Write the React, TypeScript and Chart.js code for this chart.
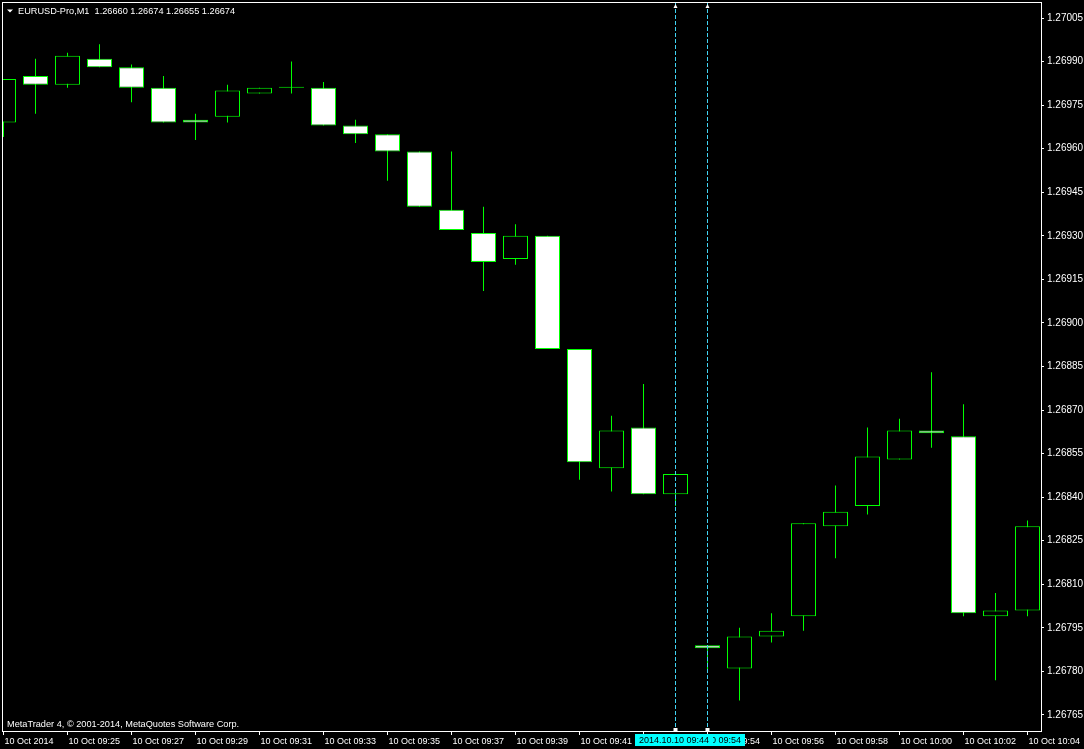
import React, { useEffect, useRef } from 'react';
import { Chart, registerables } from 'chart.js';

Chart.register(...registerables);

// ---- Data (EURUSD-Pro, M1, 10 Oct 2014) ----
const times = [
  '09:23', '09:24', '09:25', '09:26', '09:27', '09:28', '09:29', '09:30', '09:31', '09:32', '09:33',
  '09:34', '09:35', '09:36', '09:37', '09:38', '09:39', '09:40', '09:41', '09:42', '09:43', '09:44',
  '09:54', '09:55', '09:56', '09:57', '09:58', '09:59', '10:00', '10:01', '10:02', '10:03', '10:04',
];
const opens = [
  1.26969, 1.26985, 1.26982, 1.26991, 1.26988, 1.26981, 1.26970, 1.26971, 1.26979, 1.26981, 1.26981,
  1.26968, 1.26965, 1.26959, 1.26939, 1.26931, 1.26922, 1.26930, 1.26891, 1.26850, 1.26864, 1.26841,
  1.26789, 1.26781, 1.26792, 1.26799, 1.26830, 1.26837, 1.26853, 1.26863, 1.26861, 1.26799, 1.26801,
];
const highs = [
  1.26984, 1.26991, 1.26993, 1.26996, 1.26989, 1.26985, 1.26972, 1.26982, 1.26981, 1.26990, 1.26983,
  1.26970, 1.26965, 1.26959, 1.26959, 1.26940, 1.26934, 1.26930, 1.26891, 1.26868, 1.26879, 1.26848,
  1.26789, 1.26795, 1.26800, 1.26831, 1.26844, 1.26864, 1.26867, 1.26883, 1.26872, 1.26807, 1.26832,
];
const lows = [
  1.26964, 1.26972, 1.26981, 1.26988, 1.26976, 1.26969, 1.26963, 1.26969, 1.26979, 1.26979, 1.26968,
  1.26962, 1.26949, 1.26940, 1.26932, 1.26911, 1.26920, 1.26891, 1.26846, 1.26842, 1.26841, 1.26837,
  1.26780, 1.26770, 1.26790, 1.26794, 1.26819, 1.26834, 1.26853, 1.26857, 1.26799, 1.26777, 1.26799,
];
const closes = [
  1.26984, 1.26982, 1.26992, 1.26988, 1.26981, 1.26969, 1.26969, 1.26980, 1.26981, 1.26981, 1.26968,
  1.26965, 1.26959, 1.26940, 1.26932, 1.26921, 1.26930, 1.26891, 1.26852, 1.26863, 1.26841, 1.26848,
  1.26788, 1.26792, 1.26794, 1.26831, 1.26835, 1.26854, 1.26863, 1.26862, 1.26800, 1.26801, 1.26830,
];

const xTickIndices = [0, 2, 4, 6, 8, 10, 12, 14, 16, 18, 20, 22, 24, 26, 28, 30, 32];
const xTickLabels = [
  '10 Oct 2014', '10 Oct 09:25', '10 Oct 09:27', '10 Oct 09:29', '10 Oct 09:31', '10 Oct 09:33',
  '10 Oct 09:35', '10 Oct 09:37', '10 Oct 09:39', '10 Oct 09:41', '10 Oct 09:43', '10 Oct 09:54',
  '10 Oct 09:56', '10 Oct 09:58', '10 Oct 10:00', '10 Oct 10:02', '10 Oct 10:04',
];
const yTicks = [
  1.26765, 1.2678, 1.26795, 1.2681, 1.26825, 1.2684, 1.26855, 1.2687, 1.26885,
  1.269, 1.26915, 1.2693, 1.26945, 1.2696, 1.26975, 1.2699, 1.27005,
];

const headerSymbol = 'EURUSD-Pro,M1';
const headerQuote = ['1.26660', '1.26674', '1.26655', '1.26674'];
const footerText = 'MetaTrader 4, \u00A9 2001-2014, MetaQuotes Software Corp.';
// vertical cursor lines (drawn in this order)
const cursorIdx = [22, 21];
const cursorLabels = ['2014.10.10 09:54', '2014.10.10 09:44'];

const FONT = '"Liberation Sans", Arial, sans-serif';
const GREEN = '#00ff00';

const zeroPad = (s: any) => {
  s.paddingTop = 0;
  s.paddingBottom = 0;
  s.paddingLeft = 0;
  s.paddingRight = 0;
};

const overlayPlugin = {
  id: 'mt4Overlay',
  beforeDraw(chart: any) {
    const ctx = chart.ctx;
    ctx.save();
    ctx.fillStyle = '#000';
    ctx.fillRect(0, 0, chart.width, chart.height);
    ctx.restore();
  },
  afterDraw(chart: any) {
    const ctx = chart.ctx;
    const { left, top, right, bottom } = chart.chartArea;
    const xs = chart.scales.x;
    ctx.save();

    // frame
    ctx.strokeStyle = '#ffffff';
    ctx.lineWidth = 1;
    ctx.strokeRect(left + 0.5, top + 0.5, right - left, bottom - top);

    // cursor dashed lines
    cursorIdx.forEach((idx) => {
      const x = Math.floor(xs.getPixelForValue(idx)) + 0.5;
      ctx.save();
      ctx.strokeStyle = '#40d4f4';
      ctx.setLineDash([4, 2]);
      ctx.beginPath();
      ctx.moveTo(x, top + 1);
      ctx.lineTo(x, bottom);
      ctx.stroke();
      ctx.restore();
      // small markers
      ctx.fillStyle = '#ffffff';
      ctx.beginPath();
      ctx.moveTo(x - 2, top + 6);
      ctx.lineTo(x + 2, top + 6);
      ctx.lineTo(x, top + 2);
      ctx.closePath();
      ctx.fill();
      ctx.fillRect(x - 2, bottom - 3, 4, 3);
    });

    // cursor time boxes on the time axis
    ctx.font = `9px ${FONT}`;
    ctx.textBaseline = 'middle';
    ctx.textAlign = 'center';
    cursorIdx.forEach((idx, i) => {
      const cx = Math.floor(xs.getPixelForValue(idx)) - 1;
      const w = ctx.measureText(cursorLabels[i]).width + 8;
      ctx.fillStyle = '#00ffff';
      ctx.fillRect(Math.round(cx - w / 2), bottom + 3, Math.round(w), 12);
      ctx.fillStyle = '#000000';
      ctx.fillText(cursorLabels[i], cx, bottom + 9.5);
    });

    // header
    ctx.fillStyle = '#ffffff';
    ctx.beginPath();
    ctx.moveTo(7, 9.5);
    ctx.lineTo(13, 9.5);
    ctx.lineTo(10, 12.5);
    ctx.closePath();
    ctx.fill();
    ctx.textAlign = 'left';
    ctx.textBaseline = 'alphabetic';
    ctx.font = `9.2px ${FONT}`;
    ctx.fillText(headerSymbol + '  ' + headerQuote.join(' '), 18, 13.5);

    // footer
    ctx.font = `9.2px ${FONT}`;
    ctx.fillText(footerText, 7, 727);

    ctx.restore();
  },
};

export default function App() {
  const canvasRef = useRef<HTMLCanvasElement | null>(null);

  useEffect(() => {
    const canvas = canvasRef.current;
    if (!canvas) return;

    const bodies = times.map((_, i) => ({ x: i, y: [opens[i], closes[i]] }));
    const wicks = times.map((_, i) => ({ x: i, y: [lows[i], highs[i]] }));
    const bodyColors = times.map((_, i) => (closes[i] < opens[i] ? '#ffffff' : '#000000'));

    const chart = new Chart(canvas, {
      type: 'bar',
      data: {
        datasets: [
          {
            label: 'body',
            data: bodies as any,
            backgroundColor: bodyColors,
            borderColor: GREEN,
            borderWidth: 1,
            borderSkipped: false,
            barThickness: 25,
            grouped: false,
            minBarLength: 1,
            inflateAmount: 0,
            order: 1,
          } as any,
          {
            label: 'wick',
            data: wicks as any,
            backgroundColor: GREEN,
            borderWidth: 0,
            barThickness: 1,
            grouped: false,
            inflateAmount: 0,
            order: 2,
          } as any,
        ],
      },
      options: {
        responsive: false,
        maintainAspectRatio: false,
        animation: false,
        devicePixelRatio: 1,
        events: [],
        layout: { padding: { left: 2, top: 2, right: 0, bottom: 0 } },
        plugins: { legend: { display: false }, tooltip: { enabled: false } },
        scales: {
          x: {
            type: 'linear',
            offset: false,
            min: -0.046875,
            max: 32.421875,
            grid: { offset: false, drawOnChartArea: false, drawTicks: true, tickLength: 4, color: '#ffffff' },
            border: { display: false },
            ticks: {
              color: '#ffffff',
              font: { family: FONT, size: 9 },
              autoSkip: false,
              maxRotation: 0,
              minRotation: 0,
              align: 'start',
              labelOffset: 1,
              padding: 1,
              callback: (v: any) => {
                const j = xTickIndices.indexOf(Number(v));
                return j >= 0 ? xTickLabels[j] : '';
              },
            },
            afterBuildTicks: (s: any) => {
              s.ticks = xTickIndices.map((v) => ({ value: v }));
            },
            afterFit: (s: any) => {
              s.height = 18;
              zeroPad(s);
            },
          } as any,
          y: {
            type: 'linear',
            position: 'right',
            min: 1.2675949,
            max: 1.2701051,
            grid: { drawOnChartArea: false, drawTicks: true, tickLength: 3, color: '#ffffff' },
            border: { display: false },
            ticks: {
              color: '#ffffff',
              font: { family: FONT, size: 10 },
              padding: 3,
              callback: (v: any) => Number(v).toFixed(5),
            },
            afterBuildTicks: (s: any) => {
              s.ticks = yTicks.map((v) => ({ value: v }));
            },
            afterFit: (s: any) => {
              s.width = 43;
              zeroPad(s);
            },
          } as any,
        },
      },
      plugins: [overlayPlugin],
    });

    return () => chart.destroy();
  }, []);

  return (
    <div style={{ position: 'fixed', left: 0, top: 0, width: 1084, height: 749, background: '#000' }}>
      <canvas ref={canvasRef} width={1084} height={749} style={{ display: 'block', width: 1084, height: 749 }} />
    </div>
  );
}
